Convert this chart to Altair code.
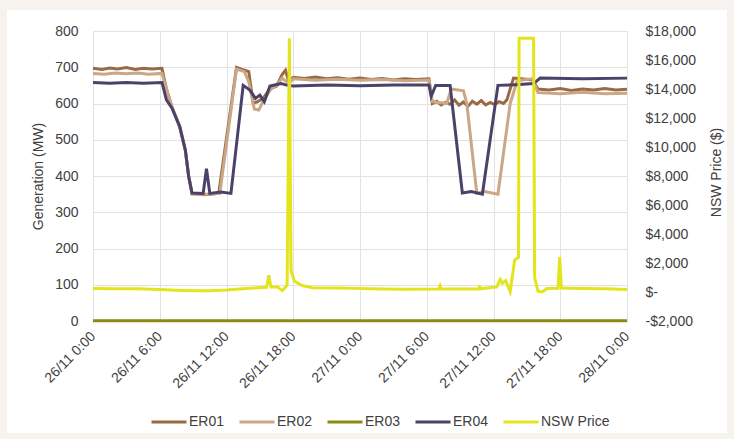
import json
import altair as alt
import pandas as pd

# ---------------- data ----------------
SERIES = ["ER01", "ER02", "ER03", "ER04", "NSW Price"]
COLORS = ["#9a6b42", "#c9a787", "#8a8a16", "#4a4268", "#e4e41c"]

X_TICKS = [0, 6, 12, 18, 24, 30, 36, 42, 48]
X_TICK_LABELS = ["26/11 0:00", "26/11 6:00", "26/11 12:00", "26/11 18:00",
                 "27/11 0:00", "27/11 6:00", "27/11 12:00", "27/11 18:00",
                 "28/11 0:00"]
MW_TICKS = [0, 100, 200, 300, 400, 500, 600, 700, 800]
PRICE_TICKS = [-2000, 0, 2000, 4000, 6000, 8000, 10000, 12000, 14000, 16000, 18000]
PRICE_TICK_LABELS = ["-$2,000", "$-", "$2,000", "$4,000", "$6,000", "$8,000",
                     "$10,000", "$12,000", "$14,000", "$16,000", "$18,000"]

# hours since 26/11 0:00, generation in MW
ER01_H = [0, 0.8, 1.5, 2.2, 3, 3.8, 4.5, 5.3, 6.2, 6.6, 7.1, 7.8, 8.3, 8.6, 8.9, 10, 11.3,
          12.9, 13.5, 14.0, 14.4, 14.8, 15.3, 15.9, 16.5, 17.0, 17.3, 17.6, 18.0, 19, 20,
          21, 22, 23, 24, 25, 26, 27, 28, 29, 30.2,
          30.5, 30.9, 31.3, 31.7, 32.1, 32.5, 32.9, 33.3, 33.7, 34.1, 34.5, 34.9, 35.3,
          35.7, 36.1, 36.5, 36.9, 37.2, 37.8, 38.5, 39.5, 40.0, 41, 42, 43, 44, 45, 46,
          47, 48]
ER01_MW = [697, 694, 698, 695, 699, 694, 697, 695, 697, 640, 590, 535, 470, 400, 352, 348,
           352, 700, 693, 688, 600, 605, 615, 640, 648, 680, 692, 660, 672, 669, 673,
           668, 671, 667, 670, 666, 669, 665, 668, 666, 668,
           600, 606, 596, 603, 598, 610, 595, 604, 592, 606, 598, 608, 596,
           603, 597, 605, 600, 610, 670, 668, 665, 640, 637, 641, 636, 640, 637, 641,
           637, 639]

ER02_H = [0, 1, 2, 3, 4, 5, 6.2, 6.6, 7.1, 7.8, 8.3, 8.6, 8.9, 10, 11.4, 12.9, 13.6, 14.0,
          14.5, 14.9, 15.4, 16.0, 16.5, 17.0, 17.6, 18.0, 20, 22, 24, 26, 28, 30.2, 30.5,
          31.8, 32.2, 33.3, 33.6, 34.5, 35.2, 36.4, 37.5, 38.1, 38.6, 39.5, 40.0, 42, 44,
          46, 48]
ER02_MW = [683, 681, 684, 682, 684, 681, 683, 640, 590, 535, 470, 400, 350, 350, 352, 695,
           688, 660, 585, 582, 612, 640, 650, 670, 655, 668, 664, 667, 664, 666, 663, 665,
           605, 600, 640, 635, 600, 352, 357, 350, 600, 660, 665, 668, 630, 627, 631,
           627, 628]

ER03_H = [0, 12, 24, 36, 48]
ER03_MW = [1, 1, 1, 1, 1]

ER04_H = [0, 1.5, 3, 4.5, 6.2, 6.6, 7.1, 7.8, 8.3, 8.6, 8.9, 9.9, 10.2, 10.5, 11.5, 12.4,
          13.5, 14.1, 14.6, 15.0, 15.4, 15.9, 16.9, 17.5, 18, 21, 24, 27, 30.2, 30.4, 30.8,
          32.1, 33.2, 34.0, 35.0, 36.4, 38, 39.6, 40.2, 44, 48]
ER04_MW = [658, 656, 658, 656, 658, 610, 587, 536, 472, 398, 353, 352, 420, 352, 356, 352,
           650, 637, 614, 623, 605, 648, 655, 650, 648, 651, 649, 651, 651, 620, 650,
           650, 353, 357, 350, 650, 652, 655, 670, 668, 670]

# hours since 26/11 0:00, NSW price in $/MWh
PRICE_H = [0, 2, 4, 6, 8, 9.5, 10.5, 12, 13.5, 14.5, 15.6, 15.8, 16.0, 16.6, 17.0, 17.3,
           17.45, 17.65, 17.8, 18.1, 18.8, 19.75, 22, 23.5, 26, 28, 31.1, 31.2, 31.3, 33,
           34.7, 34.75, 34.8, 36.3, 36.6, 36.8, 37.1, 37.5, 37.9, 38.25, 38.3, 39.6, 39.7,
           40.0, 40.4, 40.8, 41.8, 41.95, 42.1, 44, 46, 48]
PRICE_USD = [240, 230, 220, 170, 110, 80, 90, 140, 230, 280, 320, 1150, 340, 350, 100, 330,
             500, 17500, 1480, 760, 450, 300, 270, 250, 200, 190, 210, 420, 200, 200,
             220, 450, 220, 350, 860, 600, 780, 30, 2200, 2400, 17500, 17500, 1000,
             60, 0, 240, 260, 2400, 280, 240, 220, 180]

# ---------------- tables ----------------
rows = []
for name, hs, vs in [("ER01", ER01_H, ER01_MW), ("ER02", ER02_H, ER02_MW),
                     ("ER03", ER03_H, ER03_MW), ("ER04", ER04_H, ER04_MW)]:
    for h, v in zip(hs, vs):
        rows.append({"series": name, "h": h, "mw": v})
gen_df = pd.DataFrame(rows)
price_df = pd.DataFrame({"series": "NSW Price", "h": PRICE_H, "price": PRICE_USD})

FONT = "Liberation Sans"
TXT = "#404040"
GRID = "#e2e2e2"
W, H = 534, 290
PAD = {"left": 93, "top": 31, "right": 107, "bottom": 118}
FRAME = "#f6f2ee"

x_labels_expr = json.dumps(X_TICK_LABELS) + "[round(datum.value / 6)]"
price_labels_expr = json.dumps(PRICE_TICK_LABELS) + "[round((datum.value + 2000) / 2000)]"

x_enc = alt.X(
    "h:Q",
    scale=alt.Scale(domain=[0, 48], nice=False, zero=False),
    axis=alt.Axis(values=X_TICKS, labelExpr=x_labels_expr, title=None,
                  labelAngle=315, labelAlign="right", labelBaseline="middle",
                  labelPadding=13, labelFontSize=14, labelColor=TXT, labelFont=FONT,
                  grid=True, gridColor=GRID, domain=True, domainColor="#c8c8c8",
                  ticks=False, labelOverlap=False),
)

color_enc = alt.Color(
    "series:N",
    scale=alt.Scale(domain=SERIES, range=COLORS),
    legend=alt.Legend(title=None, orient="none", direction="horizontal",
                      legendX=57, legendY=372, symbolType="stroke", symbolSize=1225,
                      symbolStrokeWidth=3, labelFontSize=14, labelColor=TXT,
                      labelFont=FONT, labelOffset=1, columnPadding=8, padding=0),
)

gen = alt.Chart(gen_df).mark_line(strokeWidth=3).encode(
    x=x_enc,
    y=alt.Y("mw:Q", scale=alt.Scale(domain=[0, 800], nice=False),
            axis=alt.Axis(orient="left", values=MW_TICKS, title="Generation (MW)",
                          grid=True, gridColor=GRID, domain=False, ticks=False,
                          labelPadding=15, labelFontSize=14, labelColor=TXT,
                          labelFont=FONT, titleFont=FONT, titleFontSize=14,
                          titleFontWeight="normal", titleColor=TXT, titlePadding=9)),
    color=color_enc,
)

price = alt.Chart(price_df).mark_line(strokeWidth=3).encode(
    x=x_enc,
    y=alt.Y("price:Q", scale=alt.Scale(domain=[-2000, 18000], nice=False, zero=False),
            axis=alt.Axis(orient="right", values=PRICE_TICKS, labelExpr=price_labels_expr,
                          title="NSW Price ($)", titleAngle=270, titleX=89, titleY=141,
                          titleAlign="center", titleBaseline="middle", grid=False,
                          domain=False, ticks=False, labelPadding=18, labelFontSize=14,
                          labelColor=TXT, labelFont=FONT, titleFont=FONT,
                          titleFontSize=14, titleFontWeight="normal", titleColor=TXT)),
    color=color_enc,
)

# decorative light frame around the white card
def strip(x0, x1, y0, y1):
    return alt.Chart(alt.Data(values=[{"k": 1}])).mark_rect(color=FRAME).encode(
        x=alt.value(x0), x2=alt.value(x1), y=alt.value(y0), y2=alt.value(y1))

full_w = W + PAD["left"] + PAD["right"]
full_h = H + PAD["top"] + PAD["bottom"]
left0, top0 = -PAD["left"], -PAD["top"]
frame = [
    strip(left0, left0 + 7, top0, top0 + full_h),
    strip(left0, left0 + full_w, top0, top0 + 10),
    strip(left0 + full_w - 7, left0 + full_w, top0, top0 + full_h),
    strip(left0, left0 + full_w, top0 + full_h - 6, top0 + full_h),
]

chart = alt.layer(*frame, gen, price).resolve_scale(y="independent").properties(
    width=W, height=H,
    autosize=alt.AutoSizeParams(type="none"),
    padding=PAD,
    background="white",
).configure_view(stroke=None)

chart.save("out.html", embed_options={"renderer": "svg", "actions": False})
